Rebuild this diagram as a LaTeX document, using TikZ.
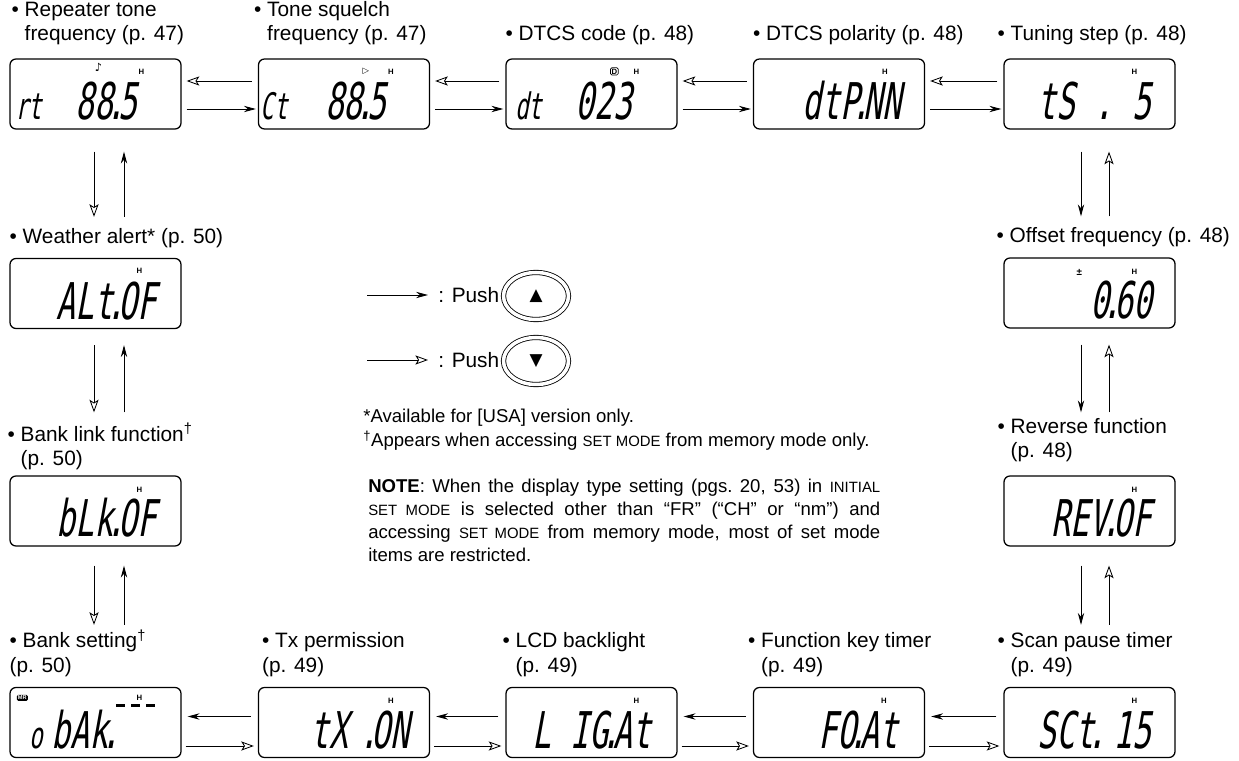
\documentclass[tikz,border=0pt]{standalone}
\usepackage{fontspec}
\setmainfont{Liberation Sans}
\newfontfamily\lcdfam{DejaVu Sans Mono}[FakeSlant=0.18,FakeStretch=0.62]
\newfontfamily\symfam{DejaVu Sans}
\usetikzlibrary{arrows.meta,shapes.geometric}

\newlength\pxu
\setlength\pxu{0.025cm}
\newcommand\lblfont{\fontsize{14.8}{17.5}\selectfont}
\newcommand\notefont{\fontsize{13.2}{16.3}\selectfont}
\newcommand\smc[1]{{\fontsize{10.6}{12}\selectfont #1}}
\newcommand\lcdbig{\lcdfam\fontsize{36}{36}\selectfont}
\newcommand\lcdsm{\lcdfam\fontsize{26}{26}\selectfont}
\newcommand\lcdpt{\kern-7\pxu.\kern-7\pxu}
\newcommand\indH{\bfseries\fontsize{5.5}{6}\selectfont}

\begin{document}
\begin{tikzpicture}[x=0.025cm, y=-0.025cm,
    lcd/.style={draw, rounded corners=6\pxu, line width=0.9pt, minimum width=171\pxu, minimum height=70\pxu, inner sep=0pt},
    seg/.style={anchor=base east, inner sep=0pt, font=\lcdbig},
    hmk/.style={inner sep=0pt, font=\indH},
    lbl/.style={anchor=south west, inner sep=0pt, align=left, font=\lblfont},
    fwd/.style={-{Stealth[length=8.5pt, width=4.5pt]}, line width=0.6pt},
    bwd/.style={-{Stealth[open, length=9pt, width=6.5pt, inset=2pt]}, line width=0.6pt},
    btn/.style={ellipse, draw, double, double distance=3.5\pxu, line width=0.6pt, minimum width=65\pxu, minimum height=47\pxu, inner sep=0pt, font=\symfam\fontsize{12}{12}\selectfont}]
    \useasboundingbox (0,0) rectangle (1239,761);

    % LCD boxes
    \node[lcd] (rt) at (95.5,94) {};
    \node[lcd] (ct) at (344,94) {};
    \node[lcd] (dtc) at (591.5,94) {};
    \node[lcd] (dtp) at (839,94) {};
    \node[lcd] (ts) at (1089.5,94) {};
    \node[lcd] (alt) at (95.5,293.5) {};
    \node[lcd] (blk) at (95.5,511) {};
    \node[lcd] (ofs) at (1089.5,293) {};
    \node[lcd] (rev) at (1089.5,511) {};
    \node[lcd] (bnk) at (95.5,722.5) {};
    \node[lcd] (tx) at (344,722.5) {};
    \node[lcd] (lig) at (591.5,722.5) {};
    \node[lcd] (fkt) at (839,722.5) {};
    \node[lcd] (sct) at (1089.5,722.5) {};

    % Readouts
    \node[seg] (rtSeg) at ([xshift=128\pxu,yshift=10\pxu]rt.south west) {{\lcdsm rt}\hspace{33\pxu}88\lcdpt5};
    \node[seg] (ctSeg) at ([xshift=129\pxu,yshift=10\pxu]ct.south west) {{\lcdsm Ct}\hspace{37\pxu}88\lcdpt5};
    \node[seg] (dtcSeg) at ([xshift=127\pxu,yshift=10\pxu]dtc.south west) {{\lcdsm dt}\hspace{33\pxu}023};
    \node[seg] (dtpSeg) at ([xshift=149\pxu,yshift=10\pxu]dtp.south west) {dtP\lcdpt NN};
    \node[seg] (tsSeg) at ([xshift=148\pxu,yshift=10\pxu]ts.south west) {tS . 5};
    \node[seg] (altSeg) at ([xshift=147\pxu,yshift=10\pxu]alt.south west) {ALt\lcdpt OF};
    \node[seg] (ofsSeg) at ([xshift=149\pxu,yshift=10\pxu]ofs.south west) {0\lcdpt 60};
    \node[seg] (revSeg) at ([xshift=148\pxu,yshift=10\pxu]rev.south west) {REV\lcdpt OF};
    \node[seg] (blkSeg) at ([xshift=147\pxu,yshift=10\pxu]blk.south west) {bLk\lcdpt OF};
    \node[seg] (bnkSeg) at ([xshift=104\pxu,yshift=10\pxu]bnk.south west) {{\lcdsm o}\kern8\pxu bAk\lcdpt};
    \node[seg] (txSeg) at ([xshift=152\pxu,yshift=10\pxu]tx.south west) {tX \lcdpt ON};
    \node[seg] (ligSeg) at ([xshift=146\pxu,yshift=10\pxu]lig.south west) {L IG\lcdpt At};
    \node[seg] (fktSeg) at ([xshift=146\pxu,yshift=10\pxu]fkt.south west) {FO\lcdpt At};
    \node[seg] (sctSeg) at ([xshift=148\pxu,yshift=10\pxu]sct.south west) {SCt\lcdpt\kern14\pxu 15};
    % blank segments of the bank readout
    \draw[line width=2pt] ([xshift=107\pxu,yshift=-19\pxu]bnk.north west) -- ++(9,0);
    \draw[line width=2pt] ([xshift=122\pxu,yshift=-19\pxu]bnk.north west) -- ++(9,0);
    \draw[line width=2pt] ([xshift=137\pxu,yshift=-19\pxu]bnk.north west) -- ++(9,0);

    % Indicators
    \node[hmk] (rtH) at ([xshift=132\pxu,yshift=-13\pxu]rt.north west) {H};
    \node[hmk] (ctH) at ([xshift=133\pxu,yshift=-13\pxu]ct.north west) {H};
    \node[hmk] (dtcH) at ([xshift=131\pxu,yshift=-13\pxu]dtc.north west) {H};
    \node[hmk] (dtpH) at ([xshift=132\pxu,yshift=-13\pxu]dtp.north west) {H};
    \node[hmk] (tsH) at ([xshift=131\pxu,yshift=-13\pxu]ts.north west) {H};
    \node[hmk] (altH) at ([xshift=130\pxu,yshift=-13\pxu]alt.north west) {H};
    \node[hmk] (ofsH) at ([xshift=131\pxu,yshift=-14\pxu]ofs.north west) {H};
    \node[hmk] (revH) at ([xshift=131\pxu,yshift=-14\pxu]rev.north west) {H};
    \node[hmk] (blkH) at ([xshift=130\pxu,yshift=-14\pxu]blk.north west) {H};
    \node[hmk] (bnkH) at ([xshift=130\pxu,yshift=-11\pxu]bnk.north west) {H};
    \node[hmk] (txH) at ([xshift=133\pxu,yshift=-14\pxu]tx.north west) {H};
    \node[hmk] (ligH) at ([xshift=131\pxu,yshift=-14\pxu]lig.north west) {H};
    \node[hmk] (fktH) at ([xshift=131\pxu,yshift=-14\pxu]fkt.north west) {H};
    \node[hmk] (sctH) at ([xshift=131\pxu,yshift=-14\pxu]sct.north west) {H};
    \node[inner sep=0pt, font=\symfam\fontsize{8}{8}\selectfont] (rtIc) at ([xshift=89\pxu,yshift=-9\pxu]rt.north west) {♪};
    \node[inner sep=0pt, font=\symfam\fontsize{6}{6}\selectfont] (ctIc) at ([xshift=108\pxu,yshift=-13\pxu]ct.north west) {▷};
    \node[draw, rounded corners=1pt, line width=0.5pt, inner sep=0.7pt, font=\bfseries\fontsize{5.5}{6}\selectfont] (dtcIc) at ([xshift=109\pxu,yshift=-13\pxu]dtc.north west) {D};
    \node[inner sep=0pt, font=\bfseries\fontsize{7}{7}\selectfont] (ofsIc) at ([xshift=76\pxu,yshift=-15\pxu]ofs.north west) {±};
    \node[fill=black, text=white, rounded corners=1pt, inner sep=0.8pt, font=\bfseries\fontsize{4}{4}\selectfont] (bnkIc) at ([xshift=13\pxu,yshift=-11\pxu]bnk.north west) {MR};

    % Labels
    \node[lbl] (rtLbl) at ([xshift=2\pxu,yshift=13\pxu]rt.north west) {• Repeater tone\\\hphantom{•\ }frequency (p. 47)};
    \node[lbl] (ctLbl) at ([xshift=-4\pxu,yshift=13\pxu]ct.north west) {• Tone squelch\\\hphantom{•\ }frequency (p. 47)};
    \node[lbl] (dtcLbl) at ([yshift=13\pxu]dtc.north west) {• DTCS code (p. 48)};
    \node[lbl] (dtpLbl) at ([yshift=13\pxu]dtp.north west) {• DTCS polarity (p. 48)};
    \node[lbl] (tsLbl) at ([xshift=-6\pxu,yshift=13\pxu]ts.north west) {• Tuning step (p. 48)};
    \node[lbl] (altLbl) at ([yshift=10\pxu]alt.north west) {• Weather alert* (p. 50)};
    \node[lbl] (ofsLbl) at ([xshift=-7\pxu,yshift=10\pxu]ofs.north west) {• Offset frequency (p. 48)};
    \node[lbl] (blkLbl) at ([xshift=-2\pxu,yshift=5\pxu]blk.north west) {• Bank link function\textsuperscript{†}\\\hphantom{•\ }(p. 50)};
    \node[lbl] (revLbl) at ([xshift=-6\pxu,yshift=13\pxu]rev.north west) {• Reverse function\\\hphantom{•\ }(p. 48)};
    \node[lbl] (bnkLbl) at ([yshift=10\pxu]bnk.north west) {• Bank setting\textsuperscript{†}\\(p. 50)};
    \node[lbl] (txLbl) at ([xshift=4\pxu,yshift=10\pxu]tx.north west) {• Tx permission\\(p. 49)};
    \node[lbl] (ligLbl) at ([xshift=-3\pxu,yshift=10\pxu]lig.north west) {• LCD backlight\\\hphantom{•\ }(p. 49)};
    \node[lbl] (fktLbl) at ([xshift=-5\pxu,yshift=10\pxu]fkt.north west) {• Function key timer\\\hphantom{•\ }(p. 49)};
    \node[lbl] (sctLbl) at ([xshift=-6\pxu,yshift=10\pxu]sct.north west) {• Scan pause timer\\\hphantom{•\ }(p. 49)};

    % Top row
    \draw[bwd] ([xshift=-6\pxu,yshift=13\pxu]ct.west) -- ([xshift=5\pxu,yshift=13\pxu]rt.east);
    \draw[fwd] ([xshift=5\pxu,yshift=-15\pxu]rt.east) -- ([xshift=-2\pxu,yshift=-15\pxu]ct.west);
    \draw[bwd] ([xshift=-6\pxu,yshift=13\pxu]dtc.west) -- ([xshift=5\pxu,yshift=13\pxu]ct.east);
    \draw[fwd] ([xshift=5\pxu,yshift=-15\pxu]ct.east) -- ([xshift=-2\pxu,yshift=-15\pxu]dtc.west);
    \draw[bwd] ([xshift=-6\pxu,yshift=13\pxu]dtp.west) -- ([xshift=5\pxu,yshift=13\pxu]dtc.east);
    \draw[fwd] ([xshift=5\pxu,yshift=-15\pxu]dtc.east) -- ([xshift=-2\pxu,yshift=-15\pxu]dtp.west);
    \draw[bwd] ([xshift=-6\pxu,yshift=13\pxu]ts.west) -- ([xshift=5\pxu,yshift=13\pxu]dtp.east);
    \draw[fwd] ([xshift=5\pxu,yshift=-15\pxu]dtp.east) -- ([xshift=-2\pxu,yshift=-15\pxu]ts.west);

    % Right column
    \draw[fwd] ([xshift=-8.5\pxu,yshift=-22\pxu]ts.south) -- ([xshift=-8.5\pxu,yshift=41\pxu]ofs.north);
    \draw[bwd] ([xshift=19.5\pxu,yshift=41\pxu]ofs.north) -- ([xshift=19.5\pxu,yshift=-22\pxu]ts.south);
    \draw[fwd] ([xshift=-8.5\pxu,yshift=-16\pxu]ofs.south) -- ([xshift=-8.5\pxu,yshift=63\pxu]rev.north);
    \draw[bwd] ([xshift=19.5\pxu,yshift=63\pxu]rev.north) -- ([xshift=19.5\pxu,yshift=-16\pxu]ofs.south);
    \draw[fwd] ([xshift=-8.5\pxu,yshift=-19\pxu]rev.south) -- ([xshift=-8.5\pxu,yshift=62\pxu]sct.north);
    \draw[bwd] ([xshift=19.5\pxu,yshift=62\pxu]sct.north) -- ([xshift=19.5\pxu,yshift=-19\pxu]rev.south);

    % Bottom row
    \draw[fwd] ([xshift=-7\pxu,yshift=6\pxu]sct.west) -- ([xshift=6\pxu,yshift=6\pxu]fkt.east);
    \draw[bwd] ([xshift=4\pxu,yshift=-23.5\pxu]fkt.east) -- ([xshift=-4\pxu,yshift=-23.5\pxu]sct.west);
    \draw[fwd] ([xshift=-7\pxu,yshift=6\pxu]fkt.west) -- ([xshift=6\pxu,yshift=6\pxu]lig.east);
    \draw[bwd] ([xshift=4\pxu,yshift=-23.5\pxu]lig.east) -- ([xshift=-4\pxu,yshift=-23.5\pxu]fkt.west);
    \draw[fwd] ([xshift=-7\pxu,yshift=6\pxu]lig.west) -- ([xshift=6\pxu,yshift=6\pxu]tx.east);
    \draw[bwd] ([xshift=4\pxu,yshift=-23.5\pxu]tx.east) -- ([xshift=-4\pxu,yshift=-23.5\pxu]lig.west);
    \draw[fwd] ([xshift=-7\pxu,yshift=6\pxu]tx.west) -- ([xshift=6\pxu,yshift=6\pxu]bnk.east);
    \draw[bwd] ([xshift=4\pxu,yshift=-23.5\pxu]bnk.east) -- ([xshift=-4\pxu,yshift=-23.5\pxu]tx.west);

    % Left column
    \draw[fwd] ([xshift=28.5\pxu,yshift=62\pxu]bnk.north) -- ([xshift=28.5\pxu,yshift=-19\pxu]blk.south);
    \draw[bwd] ([xshift=-1.5\pxu,yshift=-19\pxu]blk.south) -- ([xshift=-1.5\pxu,yshift=62\pxu]bnk.north);
    \draw[fwd] ([xshift=28.5\pxu,yshift=63\pxu]blk.north) -- ([xshift=28.5\pxu,yshift=-16\pxu]alt.south);
    \draw[bwd] ([xshift=-1.5\pxu,yshift=-16\pxu]alt.south) -- ([xshift=-1.5\pxu,yshift=63\pxu]blk.north);
    \draw[fwd] ([xshift=28.5\pxu,yshift=41\pxu]alt.north) -- ([xshift=28.5\pxu,yshift=-22\pxu]rt.south);
    \draw[bwd] ([xshift=-1.5\pxu,yshift=-22\pxu]rt.south) -- ([xshift=-1.5\pxu,yshift=41\pxu]alt.north);

    % Key
    \coordinate (kUp) at (367,295);
    \coordinate (kDn) at (367,360);
    \node[anchor=west, inner sep=0pt, font=\lblfont] (pushUp) at (438,295) {: Push};
    \node[anchor=west, inner sep=0pt, font=\lblfont] (pushDn) at (438,360) {: Push};
    \node[btn] (btnUp) at (536,296) {▲};
    \node[btn] (btnDn) at (536,361) {▼};
    \draw[fwd] (kUp) -- ([xshift=-10\pxu]pushUp.west);
    \draw[bwd] (kDn) -- ([xshift=-10\pxu]pushDn.west);

    % Notes
    \node[anchor=base west, inner sep=0pt, font=\notefont] (fnA) at (363,423) {*Available for [USA] version only.};
    \node[anchor=base west, inner sep=0pt, font=\notefont] (fnB) at (363,447) {\textsuperscript{†}Appears when accessing \smc{SET MODE} from memory mode only.};
    \node[anchor=north west, inner sep=0pt, text width=512\pxu, align=justify, font=\notefont] (note) at (368,479) {\textbf{NOTE}: When the display type setting (pgs.\ 20, 53) in \smc{INITIAL}\linebreak \smc{SET MODE} is selected other than “FR” (“CH” or “nm”) and\linebreak accessing \smc{SET MODE} from memory mode, most of set mode\linebreak items are restricted.};
\end{tikzpicture}
\end{document}
